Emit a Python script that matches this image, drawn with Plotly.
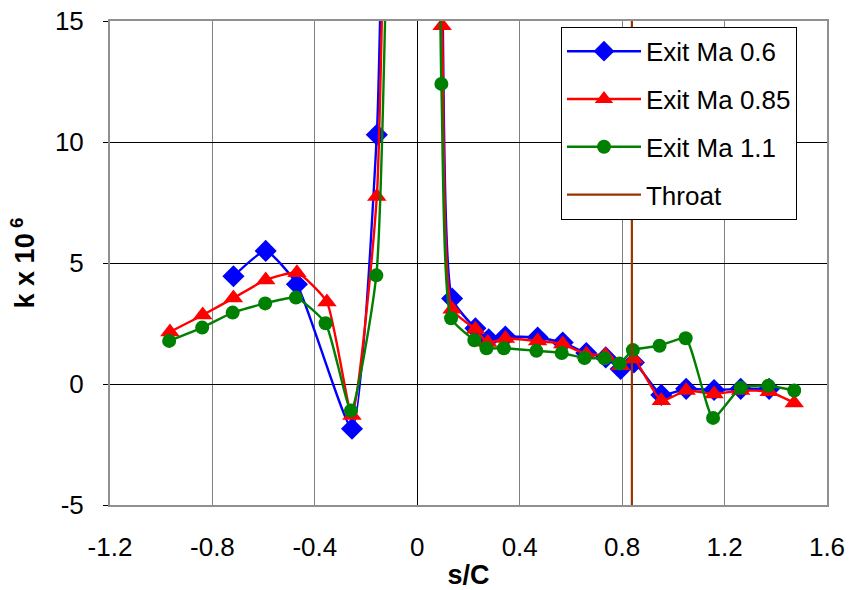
import plotly.graph_objects as go

# Turbulent kinetic energy along the blade surface (k x 10^6) versus s/C
ma06_x = [-0.718, -0.592, -0.470, -0.255, -0.158, -0.05, 0.04, 0.097, 0.136, 0.227, 0.279, 0.344,
          0.470, 0.568, 0.660, 0.736, 0.794, 0.846, 0.953, 1.050, 1.159, 1.263, 1.374]
ma06_y = [4.45, 5.50, 4.12, -1.85, 10.30, 61.0, 55.0, 17.0, 3.53, 2.30, 1.85, 1.96,
          1.92, 1.71, 1.28, 1.10, 0.62, 0.89, -0.45, -0.20, -0.25, -0.20, -0.20]

ma085_x = [-0.966, -0.838, -0.718, -0.592, -0.470, -0.353, -0.255, -0.158, -0.05, 0.04, 0.097,
           0.136, 0.227, 0.275, 0.344, 0.470, 0.568, 0.660, 0.735, 0.794, 0.846, 0.953,
           1.050, 1.159, 1.263, 1.374, 1.472]
ma085_y = [2.15, 2.85, 3.55, 4.30, 4.60, 3.39, -1.30, 7.75, 66.0, 50.0, 14.80,
           3.09, 2.26, 1.71, 1.88, 1.78, 1.65, 1.23, 1.19, 0.75, 1.03, -0.69,
           -0.27, -0.41, -0.27, -0.32, -0.78]

ma11_x = [-0.969, -0.840, -0.721, -0.594, -0.474, -0.358, -0.259, -0.160, -0.05, 0.04, 0.094,
          0.132, 0.223, 0.270, 0.338, 0.465, 0.564, 0.653, 0.731, 0.790, 0.842, 0.946,
          1.048, 1.155, 1.263, 1.371, 1.472]
ma11_y = [1.78, 2.33, 2.95, 3.33, 3.57, 2.51, -1.10, 4.49, 42.0, 45.0, 12.40,
          2.72, 1.81, 1.48, 1.48, 1.37, 1.28, 1.07, 1.06, 0.85, 1.40, 1.58,
          1.89, -1.40, -0.16, -0.07, -0.27]

throat_x = [0.838, 0.838]
throat_y = [-5, 15]

x_ticks = [-1.2, -0.8, -0.4, 0, 0.4, 0.8, 1.2, 1.6]
x_ticktext = ["-1.2", "-0.8", "-0.4", "0", "0.4", "0.8", "1.2", "1.6"]
y_ticks = [-5, 0, 5, 10, 15]
y_ticktext = ["-5", "0", "5", "10", "15"]

series = [
    ("Exit Ma 0.6", ma06_x, ma06_y, "#0000FF", "diamond", 17),
    ("Exit Ma 0.85", ma085_x, ma085_y, "#FF0000", "triangle-up", 17),
    ("Exit Ma 1.1", ma11_x, ma11_y, "#008000", "circle", 14),
]

fig = go.Figure()
for name, xs, ys, color, symbol, size in series:
    fig.add_trace(go.Scatter(
        x=xs, y=ys, name=name, legendgroup=name, mode="lines+markers",
        line=dict(color=color, width=2.4, shape="spline", smoothing=0.5),
        marker=dict(symbol=symbol, size=size, color=color, line=dict(width=0)),
        cliponaxis=True,
    ))

fig.add_trace(go.Scatter(
    x=throat_x, y=throat_y, name="Throat", legendgroup="Throat", mode="lines",
    line=dict(color="#993300", width=2.2),
))

font_family = "Liberation Sans, Arial, sans-serif"

fig.update_layout(
    width=850, height=590,
    margin=dict(l=110, r=23, t=21, b=85, autoexpand=False),
    paper_bgcolor="white", plot_bgcolor="white",
    font=dict(family=font_family, size=26, color="black"),
    showlegend=True,
    legend=dict(
        x=0.629, y=0.988, xanchor="left", yanchor="top",
        bgcolor="white", bordercolor="black", borderwidth=1,
        font=dict(size=26, family=font_family),
        itemwidth=74, tracegroupgap=11,
    ),
)

fig.update_xaxes(
    range=[-1.2, 1.6], tickvals=x_ticks, ticktext=x_ticktext,
    tickfont=dict(size=26), automargin=False,
    showgrid=True, gridcolor="#808080", gridwidth=1,
    zeroline=True, zerolinecolor="black", zerolinewidth=1,
    showline=True, linecolor="#909090", linewidth=2, mirror=True,
    ticks="", ticklabelstandoff=18,
    title=dict(text="<b>s/C</b>", font=dict(size=27), standoff=4),
)
fig.update_yaxes(
    range=[-5, 15], tickvals=y_ticks, ticktext=y_ticktext,
    tickfont=dict(size=26), automargin=False,
    showgrid=True, gridcolor="black", gridwidth=1,
    zeroline=True, zerolinecolor="black", zerolinewidth=1,
    showline=True, linecolor="#909090", linewidth=2, mirror=True,
    ticks="outside", ticklen=5, tickcolor="black", ticklabelstandoff=14,
    title=dict(text="<b>k x 10<sup> 6</sup></b>", font=dict(size=27), standoff=12),
)

fig.write_html("out.html")
